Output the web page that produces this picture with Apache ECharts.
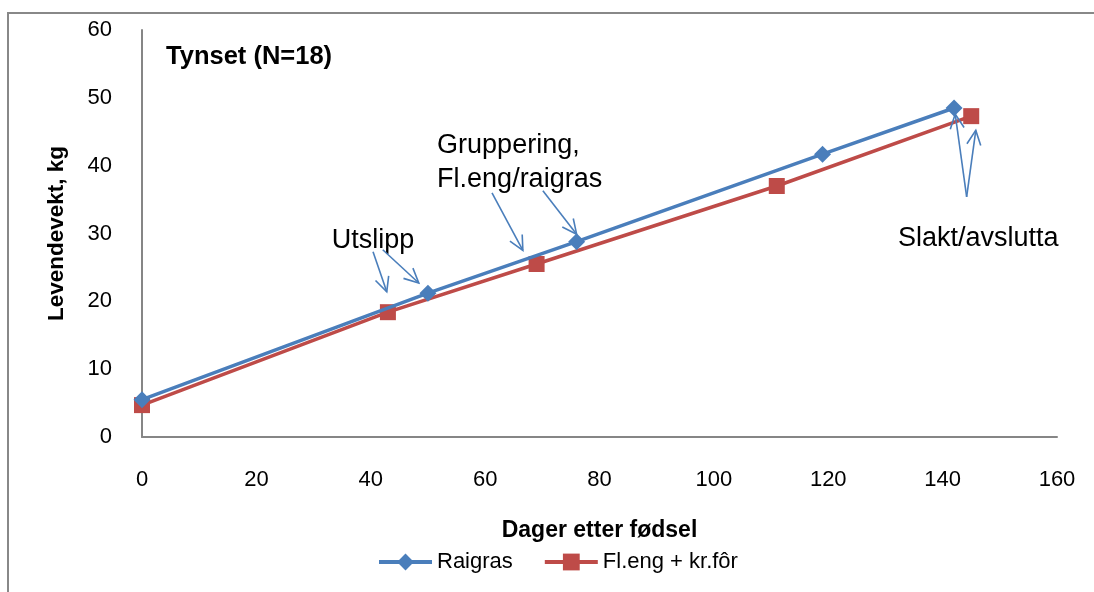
<!DOCTYPE html>
<html><head><meta charset="utf-8">
<script src="https://cdn.jsdelivr.net/npm/echarts@6/dist/echarts.min.js"></script>
<style>html,body{margin:0;padding:0;background:#fff}#c{width:1094px;height:592px}</style>
</head><body><div id="c"></div>
<script>
const daysRaigras = [0, 50, 76, 119, 142];
const weightRaigras = [5.5, 21.2, 28.8, 41.7, 48.5];
const daysFleng = [0, 43, 69, 111, 145];
const weightFleng = [4.7, 18.4, 25.5, 37.0, 47.3];
const seriesNames = ['Raigras', 'Fl.eng + kr.fôr'];
const xTitle = 'Dager etter fødsel';
const yTitle = 'Levendevekt, kg';
const chartTitle = 'Tynset (N=18)';
// annotation texts anchored in data space [x, y]
const notes = [
  {text: 'Utslipp', at: [40.4, 29.0], align: 'center'},
  {text: 'Gruppering,', at: [51.6, 43.0], align: 'left'},
  {text: 'Fl.eng/raigras', at: [51.6, 37.9], align: 'left'},
  {text: 'Slakt/avslutta', at: [132.2, 29.3], align: 'left'}
];
// arrows in data space: [from, to]
const arrows = [
  [[40.4, 27.3], [42.8, 21.4]],
  [[42.1, 27.6], [48.4, 22.7]],
  [[61.2, 36.0], [66.6, 27.5]],
  [[70.1, 36.3], [76.0, 29.9]],
  [[144.2, 35.4], [142.2, 47.6]],
  [[144.2, 35.4], [145.8, 45.2]]
];

const FONT = 'Liberation Sans';
const BLUE = '#4a7ebb';
const RED = '#be4b48';
const chart = echarts.init(document.getElementById('c'), null, {renderer: 'canvas'});

const option = {
  animation: false,
  textStyle: {fontFamily: FONT},
  grid: {left: 142, right: 37, top: 30, bottom: 155},
  legend: {
    data: seriesNames, left: 372, top: 546, itemWidth: 53, itemHeight: 21, itemGap: 30,
    lineStyle: {width: 4},
    textStyle: {fontFamily: FONT, fontSize: 22, color: '#000'}
  },
  xAxis: {
    type: 'value', min: 0, max: 160, interval: 20,
    name: xTitle, nameLocation: 'middle', nameGap: 82,
    nameTextStyle: {fontFamily: FONT, fontSize: 23, fontWeight: 'bold', color: '#000'},
    axisLine: {show: true, lineStyle: {color: '#868686', width: 2}},
    axisTick: {show: false}, splitLine: {show: false},
    axisLabel: {fontFamily: FONT, fontSize: 22, color: '#000', margin: 32}
  },
  yAxis: {
    type: 'value', min: 0, max: 60, interval: 10,
    name: yTitle, nameLocation: 'middle', nameGap: 74, nameRotate: 90,
    nameTextStyle: {fontFamily: FONT, fontSize: 22.5, fontWeight: 'bold', color: '#000'},
    axisLine: {show: true, lineStyle: {color: '#868686', width: 2}},
    axisTick: {show: false}, splitLine: {show: false},
    axisLabel: {fontFamily: FONT, fontSize: 22, color: '#000', margin: 30}
  },
  series: [
    {
      name: seriesNames[0], type: 'line', data: daysRaigras.map((d, i) => [d, weightRaigras[i]]),
      symbol: 'diamond', symbolSize: 17, lineStyle: {color: BLUE, width: 3.5},
      itemStyle: {color: BLUE}, z: 3
    },
    {
      name: seriesNames[1], type: 'line', data: daysFleng.map((d, i) => [d, weightFleng[i]]),
      symbol: 'rect', symbolSize: 16, lineStyle: {color: RED, width: 3.5},
      itemStyle: {color: RED}, z: 2
    }
  ]
};
chart.setOption(option);

function px(p) { return chart.convertToPixel({gridIndex: 0}, p); }
const g = [];
g.push({type: 'rect', shape: {x: 8, y: 13, width: 1100, height: 600}, style: {fill: 'none', stroke: '#888', lineWidth: 2}, silent: true, z: 0});
const tp = px([4.2, 56.0]);
g.push({type: 'text', x: tp[0], y: tp[1], style: {text: chartTitle, font: 'bold 25.5px "' + FONT + '"', fill: '#000', textAlign: 'left', textVerticalAlign: 'middle'}, z: 10});
notes.forEach(n => {
  const p = px(n.at);
  g.push({type: 'text', x: p[0], y: p[1], style: {text: n.text, font: '27px "' + FONT + '"', fill: '#000', textAlign: n.align, textVerticalAlign: 'middle'}, z: 10});
});
arrows.forEach(a => {
  const p0 = px(a[0]), p1 = px(a[1]);
  const ang = Math.atan2(p1[1] - p0[1], p1[0] - p0[0]);
  const L = 16, spread = 0.45;
  const h1 = [p1[0] - L * Math.cos(ang - spread), p1[1] - L * Math.sin(ang - spread)];
  const h2 = [p1[0] - L * Math.cos(ang + spread), p1[1] - L * Math.sin(ang + spread)];
  g.push({type: 'line', shape: {x1: p0[0], y1: p0[1], x2: p1[0], y2: p1[1]}, style: {stroke: BLUE, lineWidth: 1.6}, z: 10});
  g.push({type: 'polyline', shape: {points: [h1, p1, h2]}, style: {stroke: BLUE, lineWidth: 1.6, fill: 'none'}, z: 10});
});
chart.setOption({graphic: g});
</script>
</body></html>
